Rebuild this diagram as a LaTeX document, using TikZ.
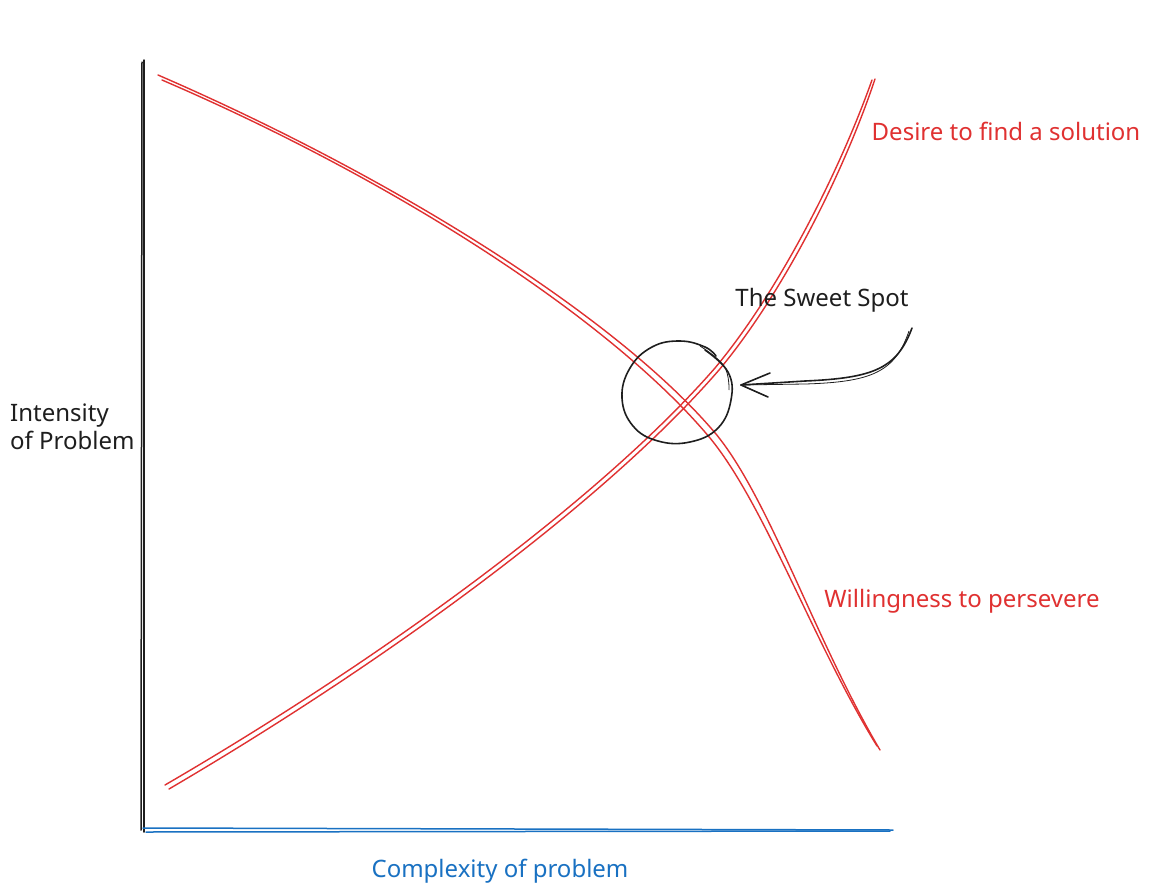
\documentclass[tikz,border=0pt]{standalone}
\usepackage{fontspec}
\setmainfont{Noto Sans}
\definecolor{xred}{HTML}{E03131}
\definecolor{xblue}{HTML}{1971C2}
\definecolor{xblack}{HTML}{1E1E1E}
\begin{document}
\begin{tikzpicture}[x=1pt,y=-1pt,
  redline/.style={draw=xred,line width=1.4pt,line cap=round},
  axisline/.style={line width=1.5pt,line cap=round},
  inkline/.style={draw=xblack,line width=1.6pt,line cap=round,line join=round},
  lbl/.style={font=\fontsize{24}{28}\selectfont,inner sep=0pt}]
\useasboundingbox[fill=white] (0,0) rectangle (1157,889);

% axes
\draw[axisline,draw=xblack] (142,62) -- (141,830);
\draw[axisline,draw=xblack] (144,60) -- (144,832);
\draw[axisline,draw=xblue] (143,828) -- (893,830);
\draw[axisline,draw=xblue] (146,832) -- (890,831);

% Willingness to persevere curve
\draw[redline] (158,75) .. controls (400,180) and (620,320) .. (716,434)
  .. controls (770,500) and (815,640) .. (880,750);
\draw[redline] (162,80) .. controls (404,184) and (615,324) .. (710,438)
  .. controls (765,505) and (813,642) .. (877,746);

% Desire to find a solution curve
\draw[redline] (165,785) .. controls (380,660) and (600,500) .. (715,368)
  .. controls (780,290) and (840,170) .. (872,80);
\draw[redline] (169,789) .. controls (384,663) and (604,503) .. (719,370)
  .. controls (784,292) and (844,172) .. (875,79);

% sweet spot circle
\node[circle,minimum size=108pt,inner sep=0pt] (spot) at (676,392) {};
\draw[inkline] plot[smooth,tension=0.7] coordinates
 {(705,350) (728,372) (731,400) (718,428) (690,442) (658,441) (633,426) (622,398) (630,368) (652,347) (680,341) (705,347) (716,356)};
\draw[draw=xblack,line width=0.8pt] plot[smooth,tension=0.7] coordinates
 {(700,346) (724,366) (729,390)};

% arrow
\coordinate (tail) at (912,328);
\coordinate (tip) at (741,385);
\draw[inkline] (tail) .. controls (897,368) and (875,378) .. (805,381) -- (tip);
\draw[draw=xblack,line width=0.8pt] (909,331) .. controls (895,372) and (872,382) .. (805,384) -- (tip);
\draw[inkline] (770,373) -- (tip) -- (768,397);

% labels
\node[lbl,text=xblack] (sweet) at (822,300) {The Sweet Spot};
\node[lbl,text=xred] (desire) at (1006,131) {Desire to find a solution};
\node[lbl,text=xred] (will) at (962,601) {Willingness to persevere};
\node[lbl,text=xblack,anchor=west,align=left] (intensity) at (10,427) {Intensity\\of Problem};
\node[lbl,text=xblue] (complexity) at (500,871) {Complexity of problem};
\end{tikzpicture}
\end{document}
